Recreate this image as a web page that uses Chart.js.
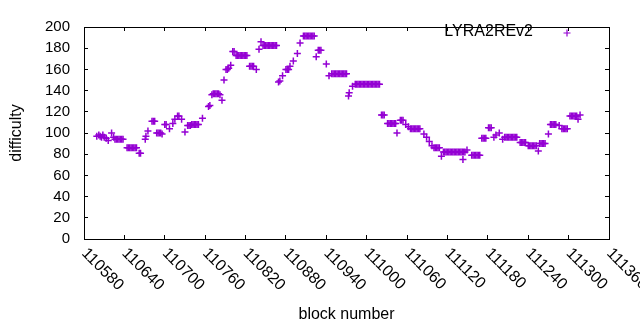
<!DOCTYPE html>
<html><head><meta charset="utf-8">
<script src="https://cdn.jsdelivr.net/npm/chart.js@4.4.1/dist/chart.umd.min.js"></script>
<style>html,body{margin:0;padding:0;background:#fff}#wrap{width:640px;height:330px}</style>
</head><body><div id="wrap"><canvas id="c" width="640" height="330"></canvas></div>
<script>
const seriesName = 'LYRA2REv2';
const xTitle = 'block number';
const yTitle = 'difficulty';
const xTickValues = [110580,110640,110700,110760,110820,110880,110940,111000,111060,111120,111180,111240,111300,111360];
const yTickValues = [0,20,40,60,80,100,120,140,160,180,200];

const blocks = [
110599,110602,110604,110606,110608,110610,110613,110616,110621,110624,
110626,110628,110630,110632,110634,110636,110638,
110644,110646,110648,110650,110652,110654,110656,110658,
110662,110664,110671,110672,110675,
110681,110683,110685,
110688,110690,110692,110694,110696,
110700,110702,110707,110712,110715,110719,110721,110725,110730,
110734,110736,110738,
110740,110742,110744,110746,110748,110750,
110756,110765,110767,
110770,110772,110774,110776,110778,110780,110782,
110785,110788,110791,110793,110795,110798,110801,110803,
110806,110808,110810,110812,110814,110816,110818,110820,110822,
110826,110828,110830,110832,110836,110840,110843,
110846,110848,110850,110852,110854,110856,110858,110860,110862,110864,110866,
110869,110871,110875,110880,110882,110884,110886,110891,110897,110901,
110906,110908,110910,110912,110914,110916,110918,110920,110922,
110925,110928,110930,110932,110940,110944,
110948,110950,110952,110954,110956,110958,110960,110962,110964,110966,110968,110970,
110973,110974,110979,
110983,110985,110987,110989,110991,110993,110995,110997,110999,111001,
111003,111005,111007,111009,111011,111013,111015,111017,111019,
111022,111024,111026,
111031,111033,111035,111037,111039,111041,111043,
111045,111050,111052,111054,111058,111062,
111065,111067,111069,111071,111073,111075,111077,111079,
111085,111089,111093,111097,
111100,111102,111104,111106,111108,111111,
111114,111116,111118,111120,111122,111124,111126,111128,111130,111132,
111134,111136,111138,111140,111142,111144,111146,
111143,111149,
111156,111158,111160,111162,111164,111166,111168,
111171,111173,111175,111177,111181,111183,111185,
111189,111192,111197,111202,
111205,111207,111209,111211,111213,111215,111217,111219,111221,111223,
111228,111230,111232,111234,111236,
111240,111242,111244,111246,111248,111250,111252,
111255,111257,111259,111261,111263,111265,
111270,111273,111275,111277,111279,111281,111286,
111290,111292,111294,111296,111298,
111302,111304,111306,111308,111310,111312,111314,111317
];
const difficulty = [
97,98,97,96,98,96,95,93,100,96,
94,94,94,94,94,94,94,
86,86,86,86,86,86,86,86,
81,81,94,97,102,
111,111,111,
100,100,100,100,99,
108,108,104,109,113,116,116,113,101,
107,107,107,
108,108,108,108,108,108,
114,125,126,
136,137,137,137,137,137,136,
131,150,160,160,161,164,177,177,
173,173,173,173,173,173,173,173,173,
163,163,163,163,160,179,186,
182.5,182.5,182.5,182.5,182.5,182.5,182.5,182.5,182.5,182.5,182.5,
148,149,154,160,160,160,163,168,175,185,
191.5,191.5,191.5,191.5,191.5,191.5,191.5,191.5,191.5,
172,178,178,178,165,154,
156,156,156,156,156,156,156,156,156,156,156,156,
135,138,144,
146,146,146,146,146,146,146,146,146,146,
146,146,146,146,146,146,146,146,146,
117,117,117,
109,109,109,109,109,109,109,
100,112,112,112,108,106,
104,104,104,104,104,104,104,104,
99,96,92,88,
86,86,86,86,86,78,
82,82,82,82,82,82,82,82,82,82,
82,82,82,82,82,82,82,
75,84,
79,79,79,79,79,79,79,
95,95,95,95,105,105,105,
96,98,100,94,
96,96,96,96,96,96,96,96,96,96,
91,91,91,91,91,
88,88,88,88,88,88,88,
83,90,90,90,90,90,
99,108,108,108,108,108,107,
104,104,104,104,104,
116,116,116,116,116,116,113,117
];

const FONT = 'Liberation Sans, Arial, sans-serif';
const PURPLE = '#9400d3';
const points = blocks.map((b, i) => ({x: b, y: difficulty[i]}));

const innerGrid = {drawOnChartArea: false, drawTicks: true, tickLength: -4, color: '#000', lineWidth: 1};
const border = {display: true, color: '#000', width: 1};

const labelsPlugin = {
  id: 'gnuLabels',
  afterDraw(chart) {
    const ctx = chart.ctx;
    const xs = chart.scales.x;
    ctx.save();
    ctx.fillStyle = '#000';
    ctx.font = '16px ' + FONT;
    ctx.textAlign = 'left';
    ctx.textBaseline = 'middle';
    xTickValues.forEach(v => {
      const px = xs.getPixelForValue(v);
      ctx.save();
      ctx.translate(px, chart.chartArea.bottom + 12);
      ctx.rotate(Math.PI / 4);
      ctx.fillText(String(v), 0, 0);
      ctx.restore();
    });
    // legend
    ctx.textAlign = 'right';
    ctx.fillText(seriesName, 533, 32);
    ctx.strokeStyle = PURPLE;
    ctx.fillStyle = PURPLE;
    ctx.lineWidth = 1.2;
    Chart.helpers.drawPoint(ctx, {pointStyle: 'cross', radius: 3.5, borderWidth: 1.2, rotation: 0}, 567, 33);
    ctx.restore();
  }
};

new Chart(document.getElementById('c'), {
  type: 'scatter',
  data: {
    datasets: [{
      label: seriesName,
      data: points,
      pointStyle: 'cross',
      pointRadius: 3.5,
      pointBorderWidth: 1.5,
      borderColor: PURPLE,
      backgroundColor: PURPLE,
      showLine: false
    }]
  },
  options: {
    responsive: false,
    animation: false,
    devicePixelRatio: 1,
    layout: {padding: 0},
    plugins: {legend: {display: false}, tooltip: {enabled: false}},
    scales: {
      x: {
        type: 'linear', position: 'bottom', min: 110580, max: 111360,
        afterBuildTicks: s => { s.ticks = xTickValues.map(v => ({value: v})); },
        ticks: {display: false},
        grid: innerGrid, border: border,
        title: {display: true, text: xTitle, color: '#000', font: {family: FONT, size: 16}, padding: {top: 0, bottom: 6}},
        afterFit: s => { s.height = 91; }
      },
      x2: {
        type: 'linear', position: 'top', display: true, min: 110580, max: 111360,
        afterBuildTicks: s => { s.ticks = xTickValues.map(v => ({value: v})); },
        ticks: {display: false},
        grid: innerGrid, border: border,
        afterFit: s => { s.height = 19; }
      },
      y: {
        type: 'linear', position: 'left', min: 0, max: 200,
        afterBuildTicks: s => { s.ticks = yTickValues.map(v => ({value: v})); },
        ticks: {color: '#000', font: {family: FONT, size: 15}, padding: 18},
        grid: innerGrid, border: border,
        title: {display: true, text: yTitle, color: '#000', font: {family: FONT, size: 16}, padding: {top: 7, bottom: 0}},
        afterFit: s => { s.width = 84; }
      },
      y2: {
        type: 'linear', position: 'right', display: true, min: 0, max: 200,
        afterBuildTicks: s => { s.ticks = yTickValues.map(v => ({value: v})); },
        ticks: {display: false},
        grid: innerGrid, border: border,
        afterFit: s => { s.width = 31; }
      }
    }
  },
  plugins: [labelsPlugin]
});
</script>
</body></html>
